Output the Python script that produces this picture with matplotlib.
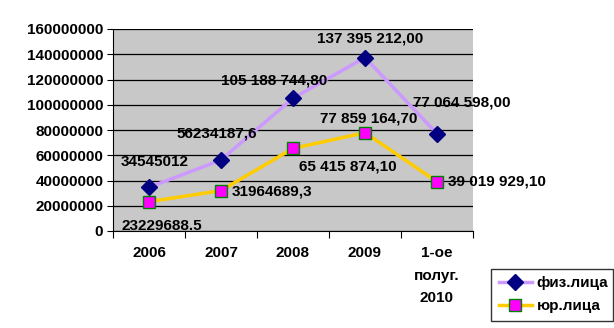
import matplotlib.pyplot as plt

plt.rcParams['font.family'] = ['Liberation Sans', 'DejaVu Sans']
plt.rcParams['font.weight'] = 'bold'

categories = ['2006', '2007', '2008', '2009', '1-ое\nполуг.\n2010']
fiz = [34545012, 56234187.6, 105188744.8, 137395212.0, 77064598.0]
yur = [23229688.5, 31964689.3, 65415874.1, 77859164.7, 39019929.1]
fiz_labels = ['34545012', '56234187,6', '105 188 744,80', '137 395 212,00', '77 064 598,00']
yur_labels = ['23229688.5', '31964689,3', '65 415 874,10', '77 859 164,70', '39 019 929,10']
yticks = [0, 20000000, 40000000, 60000000, 80000000, 100000000,
          120000000, 140000000, 160000000]

fig = plt.figure(figsize=(6.14, 3.28), dpi=100)
ax = fig.add_axes([113 / 614, 1 - 231 / 328, 360 / 614, 202 / 328])
ax.set_facecolor('#c8c8c8')

x = list(range(len(categories)))
ax.plot(x, fiz, color='#cc99ff', lw=2.5, marker='D', ms=8,
        mfc='#000080', mec='#000080', label='физ.лица', zorder=3)
ax.plot(x, yur, color='#ffcc00', lw=2.5, marker='s', ms=9,
        mfc='#ff00ff', mec='#008000', mew=1, label='юр.лица', zorder=3)

# подписи значений (смещения в пикселях)
fiz_off = [(6, 25, 'center'), (-4, 27, 'center'), (-19, 18, 'center'),
           (5, 19, 'center'), (25, 31, 'center')]
yur_off = [(13, -24, 'center'), (11, -1, 'left'), (55, -18, 'center'),
           (4, 14, 'center'), (11, 0, 'left')]
fs = 11
for i in x:
    dx, dy, ha = fiz_off[i]
    ax.annotate(fiz_labels[i], (i, fiz[i]), xytext=(dx, dy), textcoords='offset pixels',
                ha=ha, va='center', fontsize=fs, fontweight='bold', zorder=4)
    dx, dy, ha = yur_off[i]
    ax.annotate(yur_labels[i], (i, yur[i]), xytext=(dx, dy), textcoords='offset pixels',
                ha=ha, va='center', fontsize=fs, fontweight='bold', zorder=4)

ax.set_xlim(-0.5, 4.5)
ax.set_ylim(0, 160000000)
ax.set_yticks(yticks)
ax.set_yticklabels([str(v) for v in yticks], fontsize=fs, fontweight='bold')
ax.yaxis.grid(True, color='black', lw=0.9)
ax.set_axisbelow(True)

ax.set_xticks([i - 0.5 for i in range(len(categories) + 1)])
ax.set_xticklabels([])
ax.set_xticks(x, minor=True)
ax.set_xticklabels(categories, minor=True, fontsize=fs, fontweight='bold',
                   linespacing=1.75, va='top')
ax.tick_params(axis='x', which='minor', length=0, pad=11)
ax.tick_params(axis='x', which='major', length=5, direction='out')
ax.tick_params(axis='y', length=4, direction='out', pad=3)

ax.spines['top'].set_visible(False)
ax.spines['right'].set_visible(False)

leg = fig.legend(loc='lower left', bbox_to_anchor=(491 / 614, 1 - 321 / 328, 122 / 614, 58 / 328),
                 mode='expand', fontsize=fs, frameon=True, fancybox=False,
                 edgecolor='black', handlelength=2.2, borderaxespad=0, borderpad=0.5,
                 labelspacing=0.6, handletextpad=0.3)
leg.get_frame().set_linewidth(1)
for t in leg.get_texts():
    t.set_fontweight('bold')

plt.savefig('out.png', dpi=100)
plt.close()
